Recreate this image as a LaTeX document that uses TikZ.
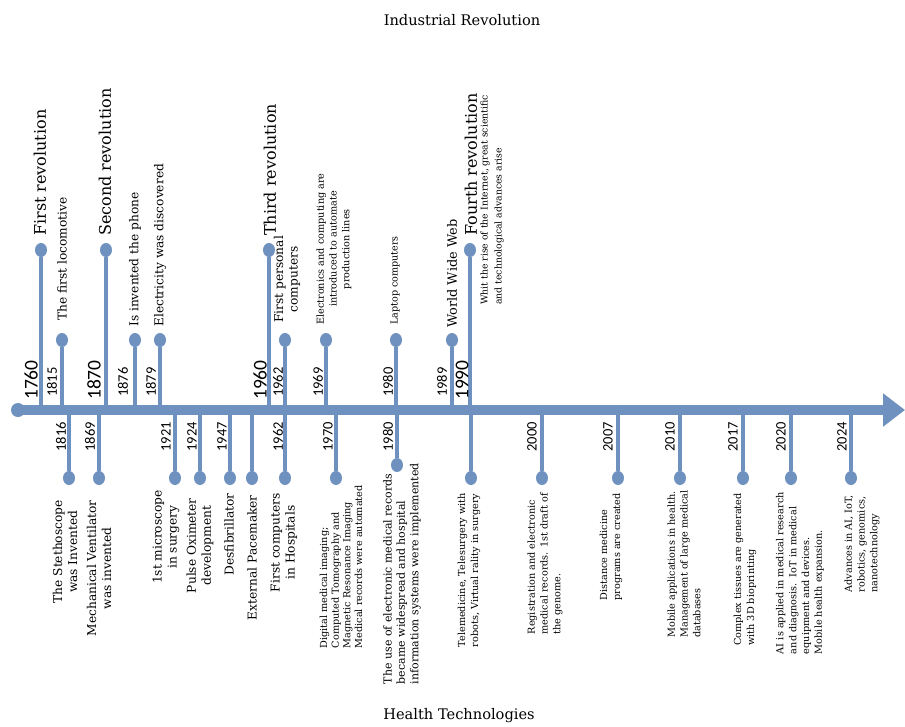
\documentclass[tikz,border=0pt]{standalone}
\usepackage{fontspec}
\setmainfont{DejaVu Serif}
\newfontfamily\yearfont{Carlito}
\usepackage{xcolor}
\usetikzlibrary{shapes,arrows.meta,positioning}
\definecolor{lineblue}{HTML}{6F91BF}

\begin{document}
\begin{tikzpicture}[x=1pt, y=-1pt,
    dot/.style={ellipse, fill=lineblue, inner sep=0pt, minimum width=12pt, minimum height=14pt},
    stem/.style={lineblue, line width=4pt},
    rev/.style={rotate=90, anchor=west, inner sep=0pt, font=\fontsize{16}{19}\selectfont},
    event/.style={rotate=90, anchor=west, inner sep=0pt, align=center, font=\fontsize{12.2}{14.5}\selectfont},
    note/.style={rotate=90, inner sep=0pt, align=left, font=\fontsize{9.7}{12.8}\selectfont},
    health/.style={rotate=90, anchor=east, inner sep=0pt, align=center, font=\fontsize{12.2}{15}\selectfont},
    bigyear/.style={rotate=90, anchor=west, inner sep=0pt, font=\yearfont\fontsize{19.5}{20}\selectfont},
    year/.style={rotate=90, inner sep=0pt, font=\yearfont\fontsize{14.5}{15}\selectfont}]
    \useasboundingbox (0,0) rectangle (905,726);

    % titles
    \node[font=\fontsize{14.6}{17}\selectfont] (title) at (462,20) {Industrial Revolution};
    \node[font=\fontsize{14.6}{17}\selectfont] (subtitle) at (459,716) {Health Technologies};

    % time axis
    \node[circle, fill=lineblue, inner sep=0pt, minimum size=14pt] (origin) at (18,410) {};
    \coordinate (tip) at (905,410);
    \draw[lineblue, line width=10pt, -{Triangle[length=22pt, width=32pt]}] (origin.center) -- (tip);

    % industrial revolution (above the axis)
    \node[dot] (r1760) at (41,250) {};
    \node[dot] (r1870) at (106,250) {};
    \node[dot] (r1960) at (269,250) {};
    \node[dot] (r1990) at (470,250) {};
    \node[dot] (i1815) at (62,340) {};
    \node[dot] (i1876) at (135,340) {};
    \node[dot] (i1879) at (160,340) {};
    \node[dot] (i1962) at (285,340) {};
    \node[dot] (i1969) at (326,340) {};
    \node[dot] (i1980) at (396,340) {};
    \node[dot] (i1989) at (452,340) {};
    \foreach \n in {r1760,r1870,r1960,r1990,i1815,i1876,i1879,i1962,i1969,i1980,i1989}
        \draw[stem] (\n) -- (\n |- origin);

    \node[rev] (tr1760) at (40,236) {First revolution};
    \node[rev] (tr1870) at (105,236) {Second revolution};
    \node[rev] (tr1960) at (270,236) {Third revolution};
    \node[rev] (tr1990) at (471,236) {Fourth revolution};
    \node[event] (ti1815) at (62,321) {The first locomotive};
    \node[event] (ti1876) at (135,327) {Is invented the phone};
    \node[event] (ti1879) at (160,327) {Electricity was discovered};
    \node[event] (ti1962) at (287,323) {First personal\\computers};
    \node[note, anchor=west, align=center] (ti1969) at (334,325) {Electronics and computing are\\introduced to automate\\production lines};
    \node[event, font=\fontsize{9.6}{11}\selectfont] (ti1980) at (395,325) {Laptop computers};
    \node[event, font=\fontsize{12.9}{15}\selectfont] (ti1989) at (452,328) {World Wide Web};
    \node[note, anchor=west, font=\fontsize{9.3}{14}\selectfont] (ti1990) at (492,305) {Whit the rise of the Internet, great scientific\\and technological advances arise};

    \node[bigyear] (y1760) at (31,400) {1760};
    \node[bigyear] (y1870) at (94,400) {1870};
    \node[bigyear] (y1960) at (260,400) {1960};
    \node[bigyear] (y1990) at (462,400) {1990};
    \node[year, anchor=west] (y1815) at (52,397) {1815};
    \node[year, anchor=west] (y1876) at (123,397) {1876};
    \node[year, anchor=west] (y1879) at (151,397) {1879};
    \node[year, anchor=west] (y1962) at (278,397) {1962};
    \node[year, anchor=west] (y1969) at (318,397) {1969};
    \node[year, anchor=west] (y1980) at (388,397) {1980};
    \node[year, anchor=west] (y1989) at (442,397) {1989};

    % health technologies (below the axis)
    \node[dot] (h1816) at (69,478) {};
    \node[dot] (h1869) at (99,478) {};
    \node[dot] (h1921) at (175,478) {};
    \node[dot] (h1924) at (200,478) {};
    \node[dot] (h1947) at (230,478) {};
    \node[dot] (hpace) at (252,478) {};
    \node[dot] (h1962) at (285,478) {};
    \node[dot] (h1970) at (336,478) {};
    \node[dot] (h1980) at (397,465) {};
    \node[dot] (h1990) at (471,478) {};
    \node[dot] (h2000) at (542,478) {};
    \node[dot] (h2007) at (618,478) {};
    \node[dot] (h2010) at (680,478) {};
    \node[dot] (h2017) at (743,478) {};
    \node[dot] (h2020) at (791,478) {};
    \node[dot] (h2024) at (851,478) {};
    \foreach \n in {h1816,h1869,h1921,h1924,h1947,hpace,h1962,h1970,h1980,h1990,h2000,h2007,h2010,h2017,h2020,h2024}
        \draw[stem] (\n) -- (\n |- origin);

    \node[year, anchor=east] (z1816) at (61,422) {1816};
    \node[year, anchor=east] (z1869) at (90,422) {1869};
    \node[year, anchor=east] (z1921) at (166,422) {1921};
    \node[year, anchor=east] (z1924) at (192,422) {1924};
    \node[year, anchor=east] (z1947) at (222,422) {1947};
    \node[year, anchor=east] (z1962) at (278,422) {1962};
    \node[year, anchor=east] (z1970) at (328,422) {1970};
    \node[year, anchor=east] (z1980) at (388,422) {1980};
    \node[year, anchor=east] (z2000) at (532,422) {2000};
    \node[year, anchor=east] (z2007) at (608,422) {2007};
    \node[year, anchor=east] (z2010) at (670,422) {2010};
    \node[year, anchor=east] (z2017) at (733,422) {2017};
    \node[year, anchor=east] (z2020) at (781,422) {2020};
    \node[year, anchor=east] (z2024) at (842,422) {2024};

    \node[health] (th1816) at (65,500) {The Stethoscope\\was Invented};
    \node[health] (th1869) at (99,500) {Mechanical Ventilator\\was invented};
    \node[health] (th1921) at (166,490) {1st microscope\\in surgery};
    \node[health] (th1924) at (200,498) {Pulse Oximeter\\development};
    \node[health] (th1947) at (229,493) {Desfibrillator};
    \node[health] (thpace) at (252,495) {External Pacemaker};
    \node[health] (th1962) at (284,493) {First computers\\in Hospitals};
    \node[note, anchor=east, font=\fontsize{9.7}{11.7}\selectfont] (th1970) at (341,485) {Digital medical imaging;\\Computed Tomography and\\Magnetic Resonance Imaging\\Medical records were automated};
    \node[note, anchor=east, font=\fontsize{11}{13.3}\selectfont] (th1980) at (402,463) {The use of electronic medical records\\became widespread and hospital\\information systems were implemented};
    \node[note, anchor=east] (th1990) at (469,493) {Telemedicine, Telesurgery with\\robots, Virtual rality in surgery};
    \node[note, anchor=east] (th2000) at (545,493) {Registration and electronic\\medical records. 1st draft of\\the genome.};
    \node[note, anchor=east] (th2007) at (611,493) {Distance medicine\\programs are created};
    \node[note, anchor=east] (th2010) at (684,490) {Mobile applications in health.\\Management of large medical\\databases};
    \node[note, anchor=east] (th2017) at (745,493) {Complex tissues are generated\\with 3D bioprinting};
    \node[note, anchor=east] (th2020) at (800,492) {AI is applied in medical research\\and diagnosis.\ \ IoT in medical\\equipment and devices.\\Mobile health expansion.};
    \node[note, anchor=east] (th2024) at (862,495) {Advances in AI, IoT,\\robotics, genomics,\\nanotechnology};
\end{tikzpicture}
\end{document}
